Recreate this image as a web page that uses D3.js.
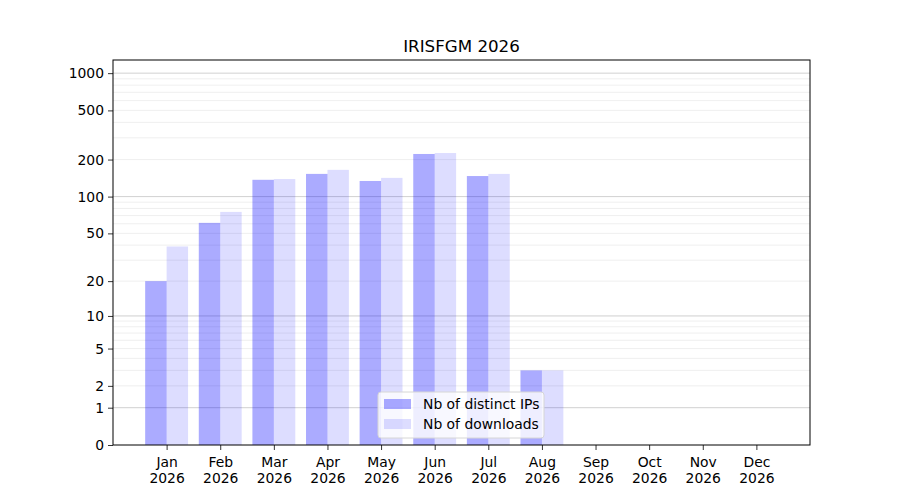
<!DOCTYPE html>
<html>
<head>
<meta charset="utf-8">
<script src="https://cdn.jsdelivr.net/npm/d3@7"></script>
<style>
body { margin: 0; background: #fff; }
text { font-family: "DejaVu Sans", sans-serif; }
</style>
</head>
<body>
<div id="chart"></div>
<script>
var months = ["Jan", "Feb", "Mar", "Apr", "May", "Jun", "Jul", "Aug", "Sep", "Oct", "Nov", "Dec"];
var year = "2026";
var ips = [20, 61, 137, 153, 134, 222, 147, 3, 0, 0, 0, 0];
var downloads = [39, 75, 139, 165, 142, 226, 153, 3, 0, 0, 0, 0];
var yTicks = [0, 1, 2, 5, 10, 20, 50, 100, 200, 500, 1000];
var majorGrid = [1, 10, 100, 1000];
var minorGrid = [2, 3, 4, 5, 6, 7, 8, 9, 20, 30, 40, 50, 60, 70, 80, 90, 200, 300, 400, 500, 600, 700, 800, 900];
var seriesNames = ["Nb of distinct IPs", "Nb of downloads"];

var margin = { left: 113, right: 90, top: 60, bottom: 55 };
var width = 900 - margin.left - margin.right;
var height = 500 - margin.top - margin.bottom;

var svg = d3.select("#chart").append("svg")
	.attr("width", 900)
	.attr("height", 500);

var g = svg.append("g")
	.attr("transform", "translate(" + margin.left + "," + margin.top + ")");

// month index 1..12 on a linear scale with one step padding each side
var x = d3.scaleLinear().domain([0, 13]).range([0, width]);
var y = d3.scaleSymlog().constant(1).domain([0, 1277]).range([height, 0]);

var step = x(1) - x(0);
var barW = step * 0.4;

// grid
g.selectAll(".minor").data(minorGrid).enter().append("line")
	.attr("x1", 0).attr("x2", width)
	.attr("y1", function(d) { return y(d); })
	.attr("y2", function(d) { return y(d); })
	.attr("stroke", "#ebebeb").attr("stroke-width", 0.8);

g.selectAll(".major").data(majorGrid).enter().append("line")
	.attr("x1", 0).attr("x2", width)
	.attr("y1", function(d) { return y(d); })
	.attr("y2", function(d) { return y(d); })
	.attr("stroke", "#c4c4c4").attr("stroke-width", 0.8);

// bars
g.selectAll(".ips").data(ips).enter().append("rect")
	.attr("x", function(d, i) { return x(i + 1) - barW; })
	.attr("y", function(d) { return y(d); })
	.attr("width", barW)
	.attr("height", function(d) { return height - y(d); })
	.attr("fill", "#0000ff").attr("fill-opacity", 0.33);

g.selectAll(".dl").data(downloads).enter().append("rect")
	.attr("x", function(d, i) { return x(i + 1); })
	.attr("y", function(d) { return y(d); })
	.attr("width", barW)
	.attr("height", function(d) { return height - y(d); })
	.attr("fill", "#0000ff").attr("fill-opacity", 0.135);

// axes
var yAxis = d3.axisLeft(y).tickValues(yTicks).tickFormat(d3.format("d")).tickSize(5).tickPadding(4);
var ya = g.append("g").call(yAxis);
ya.select(".domain").remove();
ya.selectAll("text").attr("font-size", "13.9px").attr("fill", "#000");
ya.selectAll("line").attr("stroke", "#000").attr("stroke-width", 0.8);

var xAxis = d3.axisBottom(x).tickValues(d3.range(1, 13)).tickFormat("").tickSize(5);
var xa = g.append("g").attr("transform", "translate(0," + height + ")").call(xAxis);
xa.select(".domain").remove();
xa.selectAll("line").attr("stroke", "#000").attr("stroke-width", 0.8);
xa.selectAll(".tick").append("text")
	.attr("fill", "#000").attr("font-size", "13.9px").attr("text-anchor", "middle")
	.each(function(d) {
		var t = d3.select(this);
		t.append("tspan").attr("x", 0).attr("y", 21.5).text(months[d - 1]);
		t.append("tspan").attr("x", 0).attr("y", 37.5).text(year);
	});

// frame
g.append("rect")
	.attr("x", 0).attr("y", 0)
	.attr("width", width).attr("height", height)
	.attr("fill", "none").attr("stroke", "#000").attr("stroke-width", 1);

// title
svg.append("text")
	.attr("x", margin.left + width / 2).attr("y", 52)
	.attr("text-anchor", "middle").attr("font-size", "16.7px")
	.text("IRISFGM " + year);

// legend
var lg = g.append("g").attr("transform", "translate(" + (378 - margin.left) + "," + (392 - margin.top) + ")");
lg.append("rect")
	.attr("width", 166).attr("height", 46).attr("rx", 3)
	.attr("fill", "#fff").attr("fill-opacity", 0.8)
	.attr("stroke", "#d6d6d6");
var opac = [0.33, 0.135];
seriesNames.forEach(function(name, i) {
	lg.append("rect")
		.attr("x", 6).attr("y", 7 + i * 20)
		.attr("width", 27).attr("height", 10)
		.attr("fill", "#0000ff").attr("fill-opacity", opac[i]);
	lg.append("text")
		.attr("x", 45).attr("y", 17 + i * 20)
		.attr("font-size", "13.9px")
		.text(name);
});
</script>
</body>
</html>
